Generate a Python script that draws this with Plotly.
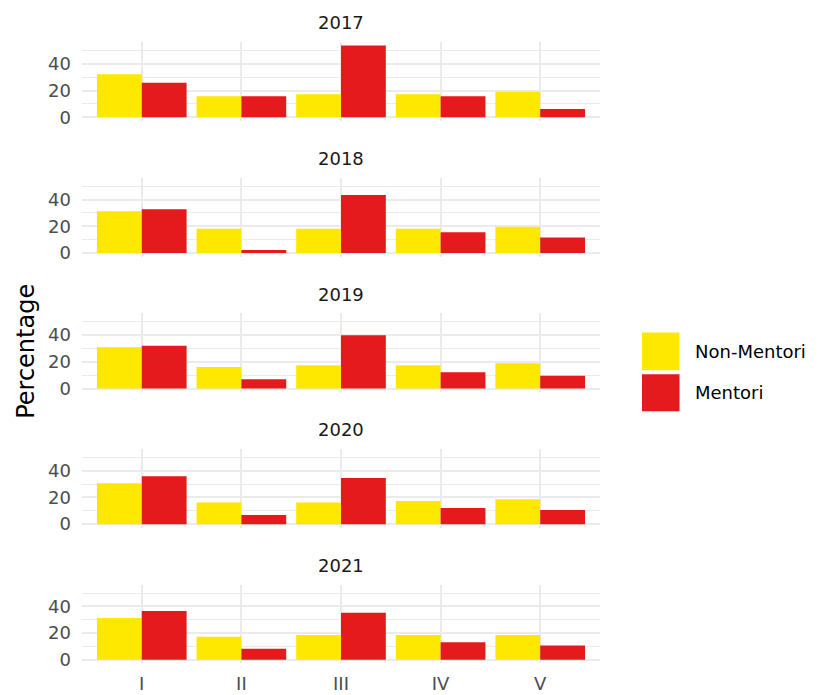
import plotly.graph_objects as go

categories = ["I", "II", "III", "IV", "V"]
years = ["2017", "2018", "2019", "2020", "2021"]
series_names = ["Non-Mentori", "Mentori"]
non_mentori = {
    "2017": [32.3, 15.8, 17.3, 17.3, 19.1],
    "2018": [31.3, 18.1, 18.1, 18.1, 19.6],
    "2019": [30.9, 16.2, 17.4, 17.4, 18.9],
    "2020": [30.7, 16.2, 16.2, 17.4, 18.7],
    "2021": [31.3, 17.3, 18.5, 18.5, 18.5],
}
mentori = {
    "2017": [25.8, 15.8, 53.8, 15.8, 6.3],
    "2018": [32.8, 2.2, 43.4, 15.4, 11.5],
    "2019": [32.1, 6.9, 40.0, 12.3, 9.6],
    "2020": [36.0, 6.9, 34.6, 12.1, 10.6],
    "2021": [36.5, 8.2, 35.3, 13.1, 10.8],
}
y_ticks = [0, 20, 40]
colors = {"Non-Mentori": "#FFE800", "Mentori": "#E41A1C"}

# page has an 8px body margin
OFF = 8
W, H = 818 - 2 * OFF, 695


def px(x):
    return (x - OFF) / W


def py(y):
    spec = (y + 0.4) / 0.989
    return 1 - (spec - OFF) / H


x_left, x_right = 82, 600
unit = 1.333
zeros = [116.7, 252.2, 387.7, 523.2, 658.7]
y_lo, y_hi = -2.7, 56.3

FONT = "DejaVu Sans, Verdana, sans-serif"
fig = go.Figure()
layout = dict(
    width=W, height=H,
    margin=dict(l=0, r=0, t=0, b=0),
    paper_bgcolor="white", plot_bgcolor="white",
    barmode="group", bargap=0.1, bargroupgap=0,
    showlegend=False,
    font=dict(family=FONT, color="#4d4d4d"),
)
annotations = []
shapes = []
for i, yr in enumerate(years):
    k = i + 1
    xa = "x" if k == 1 else f"x{k}"
    ya = "y" if k == 1 else f"y{k}"
    for name, data in (("Non-Mentori", non_mentori), ("Mentori", mentori)):
        fig.add_trace(go.Bar(
            x=categories, y=data[yr], name=name,
            marker=dict(color=colors[name], line=dict(width=0)),
            xaxis=xa, yaxis=ya, showlegend=False,
        ))
    z = zeros[i]
    top = z - y_hi * unit
    bot = z - y_lo * unit
    layout[f"xaxis{k}"] = dict(
        domain=[px(x_left), px(x_right)], anchor=ya,
        type="category", categoryorder="array", categoryarray=categories,
        range=[-0.6, 4.6], showgrid=True, gridcolor="#ebebeb", gridwidth=1.5,
        zeroline=False, showline=False, ticks="",
        showticklabels=(k == 5), tickfont=dict(size=18, color="#4d4d4d", family=FONT),
        ticklabelstandoff=8,
    )
    layout[f"yaxis{k}"] = dict(
        domain=[py(bot), py(top)], anchor=xa,
        range=[y_lo, y_hi], tickvals=y_ticks, showgrid=True,
        gridcolor="#ebebeb", gridwidth=1.5, zeroline=False, showline=False,
        ticks="", tickfont=dict(size=18, color="#4d4d4d", family=FONT),
        minor=dict(tickvals=[10, 30, 50], showgrid=True, gridcolor="#ebebeb", gridwidth=0.8),
        ticklabelstandoff=10,
    )
    annotations.append(dict(
        text=yr, x=px((x_left + x_right) / 2), y=py(z - 94.3),
        xref="paper", yref="paper", showarrow=False,
        font=dict(size=18, color="#1a1a1a", family=FONT),
        xanchor="center", yanchor="middle",
    ))

annotations.append(dict(
    text="Percentage", x=px(26), y=py(351), xref="paper", yref="paper",
    showarrow=False, textangle=-90, font=dict(size=24, color="black", family=FONT),
    xanchor="center", yanchor="middle",
))
# legend keys
legend_items = [("Non-Mentori", 331.7, 369.3), ("Mentori", 373.3, 410.5)]
for name, t, b in legend_items:
    shapes.append(dict(type="rect", xref="paper", yref="paper",
                       x0=px(642), x1=px(679.5), y0=py(b), y1=py(t),
                       fillcolor=colors[name], line=dict(width=0)))
    annotations.append(dict(text=name, x=px(693), y=py((t + b) / 2),
                            xref="paper", yref="paper", showarrow=False,
                            xanchor="left", yanchor="middle",
                            font=dict(size=18, color="black", family=FONT)))
layout["annotations"] = annotations
layout["shapes"] = shapes
fig.update_layout(**layout)
fig.write_html("out.html")
